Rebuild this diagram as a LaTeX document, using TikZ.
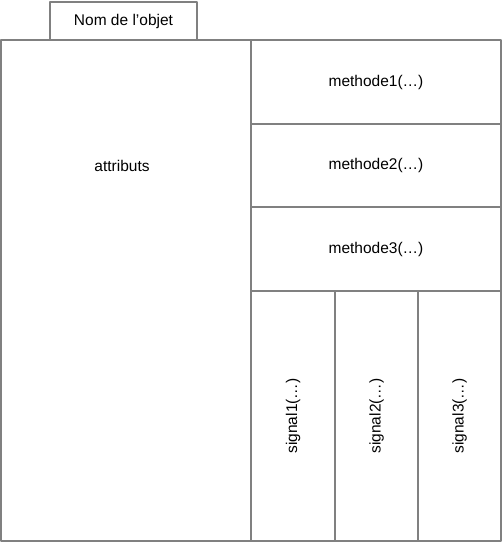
\documentclass[tikz,border=0pt]{standalone}
\usepackage{fontspec}
\setmainfont{Liberation Sans}
\begin{document}
\begin{tikzpicture}[x=1pt,y=-1pt,line join=round,font=\fontsize{15.5}{18}\selectfont,
  cell/.style={draw=gray,line width=1.9pt,inner sep=0pt,outer sep=0pt},
  lane/.style={cell,minimum width=83pt,minimum height=250pt}]
\useasboundingbox (0,0) rectangle (502,542);
% onglet du nom
\node[cell,minimum width=147pt,minimum height=38pt] (nom) at (123.5,21) {Nom de l’objet};
% attributs
\node[cell,minimum width=250pt,minimum height=501pt] (attr) at (126,290.5) {};
\node (attrtxt) at (122,166) {attributs};
% methodes
\node[cell,minimum width=250pt,minimum height=84pt] (m1) at (376,82) {methode1(…)};
\node[cell,minimum width=250pt,minimum height=83pt] (m2) at (376,165.5) {methode2(…)};
\node[cell,minimum width=250pt,minimum height=84pt] (m3) at (376,249) {methode3(…)};
% signaux
\node[lane,minimum width=84pt] (s1) at (293,416) {\rotatebox{90}{signal1(…)}};
\node[lane] (s2) at (376.5,416) {\rotatebox{90}{signal2(…)}};
\node[lane] (s3) at (459.5,416) {\rotatebox{90}{signal3(…)}};
\end{tikzpicture}
\end{document}
